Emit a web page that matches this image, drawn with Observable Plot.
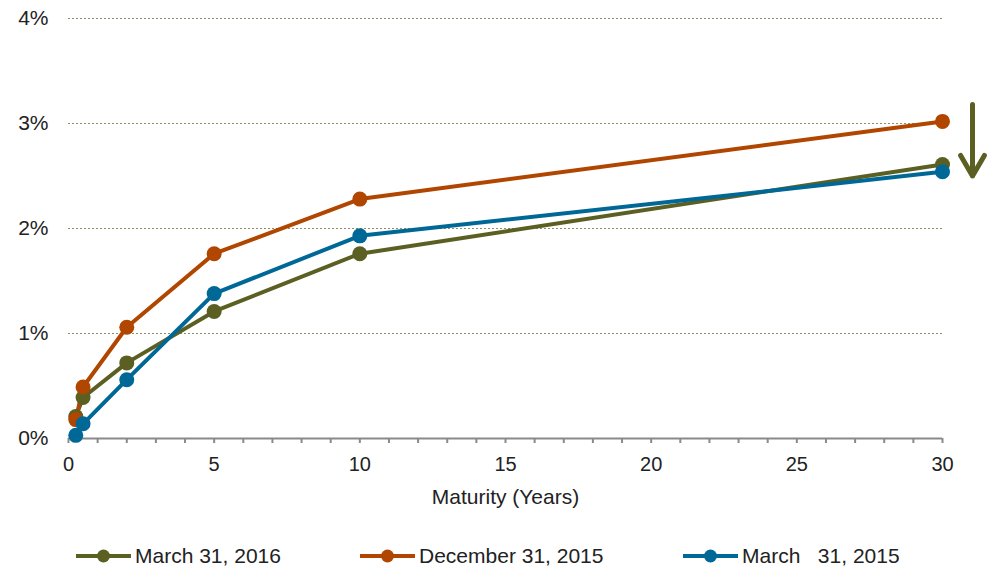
<!DOCTYPE html>
<html>
<head>
<meta charset="utf-8">
<script src="https://cdn.jsdelivr.net/npm/d3@7"></script>
<script src="https://cdn.jsdelivr.net/npm/@observablehq/plot@0.6"></script>
<style>
  body { margin: 0; background: #fff; font-family: "Liberation Sans", Arial, sans-serif; overflow: hidden; }
  #wrap { width: 991px; }
  #legend { position: relative; width: 991px; height: 53px; }
  .item { position: absolute; top: 0; height: 81px; display: flex; align-items: center; font-size: 21px; color: #222; white-space: pre; }
  .item svg { margin-right: 4px; }
</style>
</head>
<body>
<div id="wrap"></div>
<script>
const maturities = [0.25, 0.5, 2, 5, 10, 30];
const seriesNames = ["March 31, 2016", "December 31, 2015", "March   31, 2015"];
const seriesColors = ["#5c5f22", "#b04600", "#006897"];
const mar2016 = [0.0021, 0.0039, 0.0072, 0.0121, 0.0176, 0.0261];
const dec2015 = [0.0018, 0.0049, 0.0106, 0.0176, 0.0228, 0.0302];
const mar2015 = [0.0003, 0.0014, 0.0056, 0.0138, 0.0193, 0.0254];
const yTicks = [0, 0.01, 0.02, 0.03, 0.04];
const xTicks = [0, 5, 10, 15, 20, 25, 30];
const xMinorTicks = d3.range(0, 31, 1);
const arrowX = 31.03, arrowFrom = 0.0318, arrowTo = 0.0250;
const xLabel = "Maturity (Years)";

const values = [mar2016, dec2015, mar2015];
const data = [];
seriesNames.forEach((s, i) => maturities.forEach((m, j) => data.push({series: s, x: m, y: values[i][j]})));

const chart = Plot.plot({
  width: 991, height: 515,
  marginLeft: 68, marginRight: 49, marginTop: 18, marginBottom: 77,
  x: {domain: [0, 30]},
  y: {domain: [0, 0.04]},
  color: {domain: seriesNames, range: seriesColors},
  style: {fontFamily: "Liberation Sans, Arial, sans-serif", fontSize: "20px", color: "#222", background: "#fff"},
  marks: [
    Plot.gridY(yTicks.filter(d => d > 0), {stroke: "#8e8e60", strokeOpacity: 1, strokeDasharray: "2,2", strokeWidth: 1}),
    Plot.axisY(yTicks, {tickSize: 0, tickPadding: 20, tickFormat: d3.format(".0%"), label: null, fontSize: 21}),
    Plot.ruleY([0], {stroke: "#8a8a8a", strokeWidth: 2}),
    Plot.axisX(xMinorTicks, {tickSize: 5, stroke: "#8a8a8a", strokeWidth: 2, tickPadding: 13, tickFormat: d => xTicks.includes(d) ? String(d) : "", label: null, fontSize: 20}),
    Plot.text([xLabel], {frameAnchor: "bottom", dy: 65, fontSize: 21, fill: "#222"}),
    Plot.line(data, {x: "x", y: "y", z: "series", stroke: "series", strokeWidth: 4}),
    Plot.dot(data, {x: "x", y: "y", fill: "series", r: 7.5}),
    Plot.arrow([{x: arrowX, y1: arrowFrom, y2: arrowTo}], {x1: "x", x2: "x", y1: "y1", y2: "y2", stroke: seriesColors[0], strokeWidth: 5})
  ]
});
document.getElementById("wrap").appendChild(chart);

const legend = d3.select("#wrap").append("div").attr("id", "legend");
const legendLeft = [76, 360, 683];
seriesNames.forEach((s, i) => {
  const item = legend.append("div").attr("class", "item").style("left", legendLeft[i] + "px");
  const svg = item.append("svg").attr("width", 55).attr("height", 20);
  svg.append("line").attr("x1", 0).attr("x2", 55).attr("y1", 10).attr("y2", 10).attr("stroke", seriesColors[i]).attr("stroke-width", 4);
  svg.append("circle").attr("cx", 27.5).attr("cy", 10).attr("r", 6.5).attr("fill", seriesColors[i]);
  item.append("span").text(s);
});
</script>
</body>
</html>
